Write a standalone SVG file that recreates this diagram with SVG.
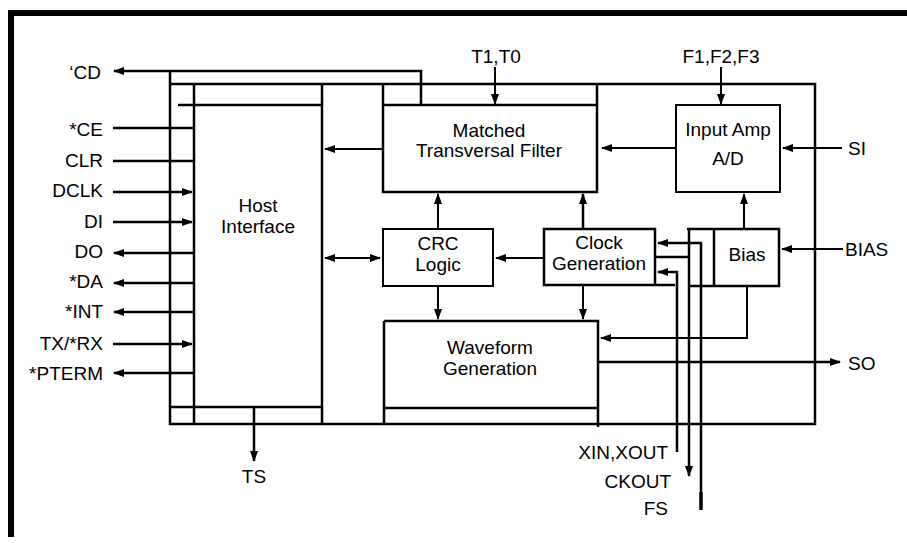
<svg xmlns="http://www.w3.org/2000/svg" width="907" height="543" viewBox="0 0 907 543">
<style>
.ln{stroke:#000;stroke-width:2.5;fill:none}
.th{stroke:#000;stroke-width:2;fill:none}
.box{stroke:#000;stroke-width:2.5;fill:none}
.bx2{stroke:#000;stroke-width:2;fill:none}
.t{font-family:"Liberation Sans",Arial,Helvetica,sans-serif;font-size:19px;fill:#000}
.e{text-anchor:end}
.m{text-anchor:middle}
.a{marker-end:url(#ah)}
</style>
<defs>
<marker id="ah" markerUnits="userSpaceOnUse" markerWidth="11" markerHeight="8" refX="10" refY="4" orient="auto-start-reverse">
<path d="M0,0 L11,4 L0,8 z" fill="#000"/>
</marker>
</defs>
<rect x="0" y="0" width="907" height="543" fill="#fff"/>
<g id="frame">
<rect x="8" y="10" width="899" height="6" fill="#000"/>
<rect x="8" y="10" width="6" height="527" fill="#000"/>
</g>
<g id="chip">
<path class="ln" d="M170,71 V424 H815 V84 H170"/>
<path class="ln" d="M194,84 V424 M322,84 V424 M178,105 H322 M171,407 H323"/>
</g>
<g id="host-interface">
<text class="t m" x="258" y="212">Host</text>
<text class="t m" x="258" y="233">Interface</text>
</g>
<g id="matched-filter">
<path class="box" d="M383,84 V192 H597 V84 M383,105 H597"/>
<text class="t m" x="489" y="137">Matched</text>
<text class="t m" x="489" y="157">Transversal Filter</text>
</g>
<g id="input-amp">
<rect class="bx2" x="676" y="105" width="104" height="87"/>
<text class="t m" x="728" y="136">Input Amp</text>
<text class="t m" x="728" y="165">A/D</text>
</g>
<g id="crc">
<rect class="bx2" x="383" y="229" width="110" height="57"/>
<text class="t m" x="438" y="250">CRC</text>
<text class="t m" x="438" y="271">Logic</text>
</g>
<g id="clock">
<path class="box" d="M544,229 H655 V285 H544 Z M655,285 H675"/>
<text class="t m" x="599" y="249">Clock</text>
<text class="t m" x="599" y="270">Generation</text>
</g>
<g id="bias">
<path class="box" d="M687,229 H779 V286 H690 M714,229 V286"/>
<text class="t m" x="747" y="261">Bias</text>
</g>
<g id="waveform">
<path class="box" d="M384,321 H598 V427 M384,321 V425 M384,408 H598"/>
<text class="t m" x="490" y="354">Waveform</text>
<text class="t m" x="490" y="375">Generation</text>
</g>
<g id="connectors">
<path class="ln a" d="M421,105 V71 H114"/>
<path class="ln" d="M113,128 H194 M113,161 H194"/>
<path class="ln a" d="M113,192 H192"/>
<path class="ln a" d="M113,222 H192"/>
<path class="ln a" d="M194,253 H114"/>
<path class="ln a" d="M194,283 H114"/>
<path class="ln a" d="M194,312 H114"/>
<path class="ln a" d="M113,344 H192"/>
<path class="ln a" d="M194,373 H114"/>
<path class="th a" d="M383,149 H325"/>
<path class="th a" d="M676,148 H602"/>
<path class="th a" d="M842,148 H783"/>
<path class="th a" d="M495,67 V104"/>
<path class="th a" d="M721,67 V104"/>
<path class="th a" d="M744,229 V194"/>
<path class="th a" d="M843,249 H782"/>
<path class="th a" d="M438,229 V194"/>
<path class="ln a" d="M583,229 V194"/>
<path class="th a" d="M544,258 H496"/>
<path class="th a" d="M325,258 H380" style="marker-start:url(#ah)"/>
<path class="th a" d="M438,286 V319"/>
<path class="th a" d="M583,285 V319"/>
<path class="th a" d="M747,286 V338 H601"/>
<path class="ln a" d="M598,362 H840"/>
<path class="ln a" d="M677,452 V272 H658"/>
<path class="ln a" d="M655,257 H689 M689,229 V476"/>
<path class="ln a" d="M701,493 V243 H658"/>
<path d="M701,492 V510" stroke="#000" stroke-width="3.5"/>
<path class="ln a" d="M254,407 V461"/>
</g>
<g id="labels">
<text class="t e" x="101" y="79">‘CD</text>
<text class="t e" x="103" y="136">*CE</text>
<text class="t e" x="103" y="167">CLR</text>
<text class="t e" x="103" y="197">DCLK</text>
<text class="t e" x="103" y="228">DI</text>
<text class="t e" x="103" y="258">DO</text>
<text class="t e" x="103" y="288">*DA</text>
<text class="t e" x="103" y="318">*INT</text>
<text class="t e" x="103" y="350">TX/*RX</text>
<text class="t e" x="103" y="380">*PTERM</text>
<text class="t m" x="496" y="63">T1,T0</text>
<text class="t m" x="721" y="63">F1,F2,F3</text>
<text class="t" x="848" y="155">SI</text>
<text class="t" x="845" y="256">BIAS</text>
<text class="t" x="848" y="370">SO</text>
<text class="t m" x="254" y="483">TS</text>
<text class="t e" x="668" y="459">XIN,XOUT</text>
<text class="t e" x="671" y="488">CKOUT</text>
<text class="t e" x="668" y="515">FS</text>
</g>
</svg>
